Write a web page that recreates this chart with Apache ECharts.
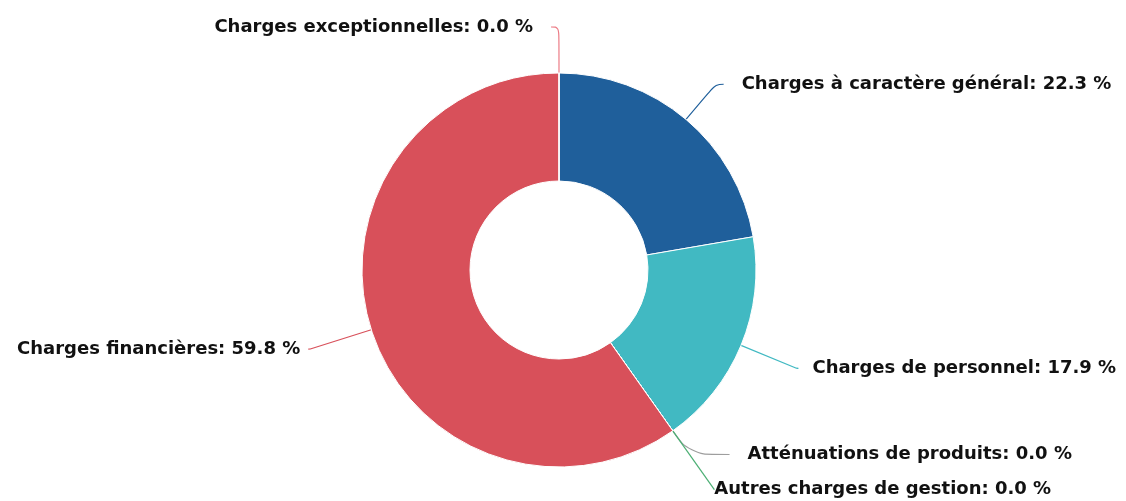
<!DOCTYPE html>
<html>
<head>
<meta charset="utf-8">
<script src="https://cdn.jsdelivr.net/npm/echarts@6/dist/echarts.min.js"></script>
<style>
  html, body { margin: 0; padding: 0; background: #fff; }
  #chart { width: 1126px; height: 501px; }
</style>
</head>
<body>
<div id="chart"></div>
<script>
var categories = [
    'Charges à caractère général',
    'Charges de personnel',
    'Atténuations de produits',
    'Autres charges de gestion',
    'Charges financières',
    'Charges exceptionnelles'
];
var values = [22.3, 17.9, 0, 0, 59.8, 0];
var colors = ['#1f5f9b', '#41b9c2', '#9e9e9e', '#4caf74', '#d8505a', '#ec7c86'];

// per-slice label line tweaks: [length, length2, distance]
var lineTweaks = [
    [46, 8, 18],
    [60, 2, 14],
    [29, 40, 18],
    [72, 0, 0],
    [64, 2, 8],
    [46, 8, 18]
];

function setChart(){
    var data = categories.map(function(name, i){
        var t = lineTweaks[i];
        return {
            name: name,
            value: values[i],
            itemStyle: { color: colors[i] },
            label: { distanceToLabelLine: t[2] },
            labelLine: { length: t[0], length2: t[1] }
        };
    });

    var option = {
        backgroundColor: 'white',
        animation: false,
        series: [
            {
                type: 'pie',
                center: [559, 270],
                radius: [89, 197],
                startAngle: 90,
                clockwise: true,
                avoidLabelOverlap: true,
                itemStyle: {
                    borderColor: '#fff',
                    borderWidth: 1
                },
                label: {
                    show: true,
                    color: '#111',
                    fontFamily: 'DejaVu Sans',
                    fontWeight: 'bold',
                    fontSize: 18,
                    overflow: 'none',
                    formatter: function(p){
                        return p.name + ': ' + p.percent.toFixed(1) + ' %';
                    }
                },
                labelLine: {
                    show: true,
                    smooth: 0.4,
                    lineStyle: { width: 1.2 }
                },
                data: data
            }
        ]
    };

    var myChart = echarts.init(document.getElementById('chart'));
    myChart.setOption(option);
}
setChart();
</script>
</body>
</html>
